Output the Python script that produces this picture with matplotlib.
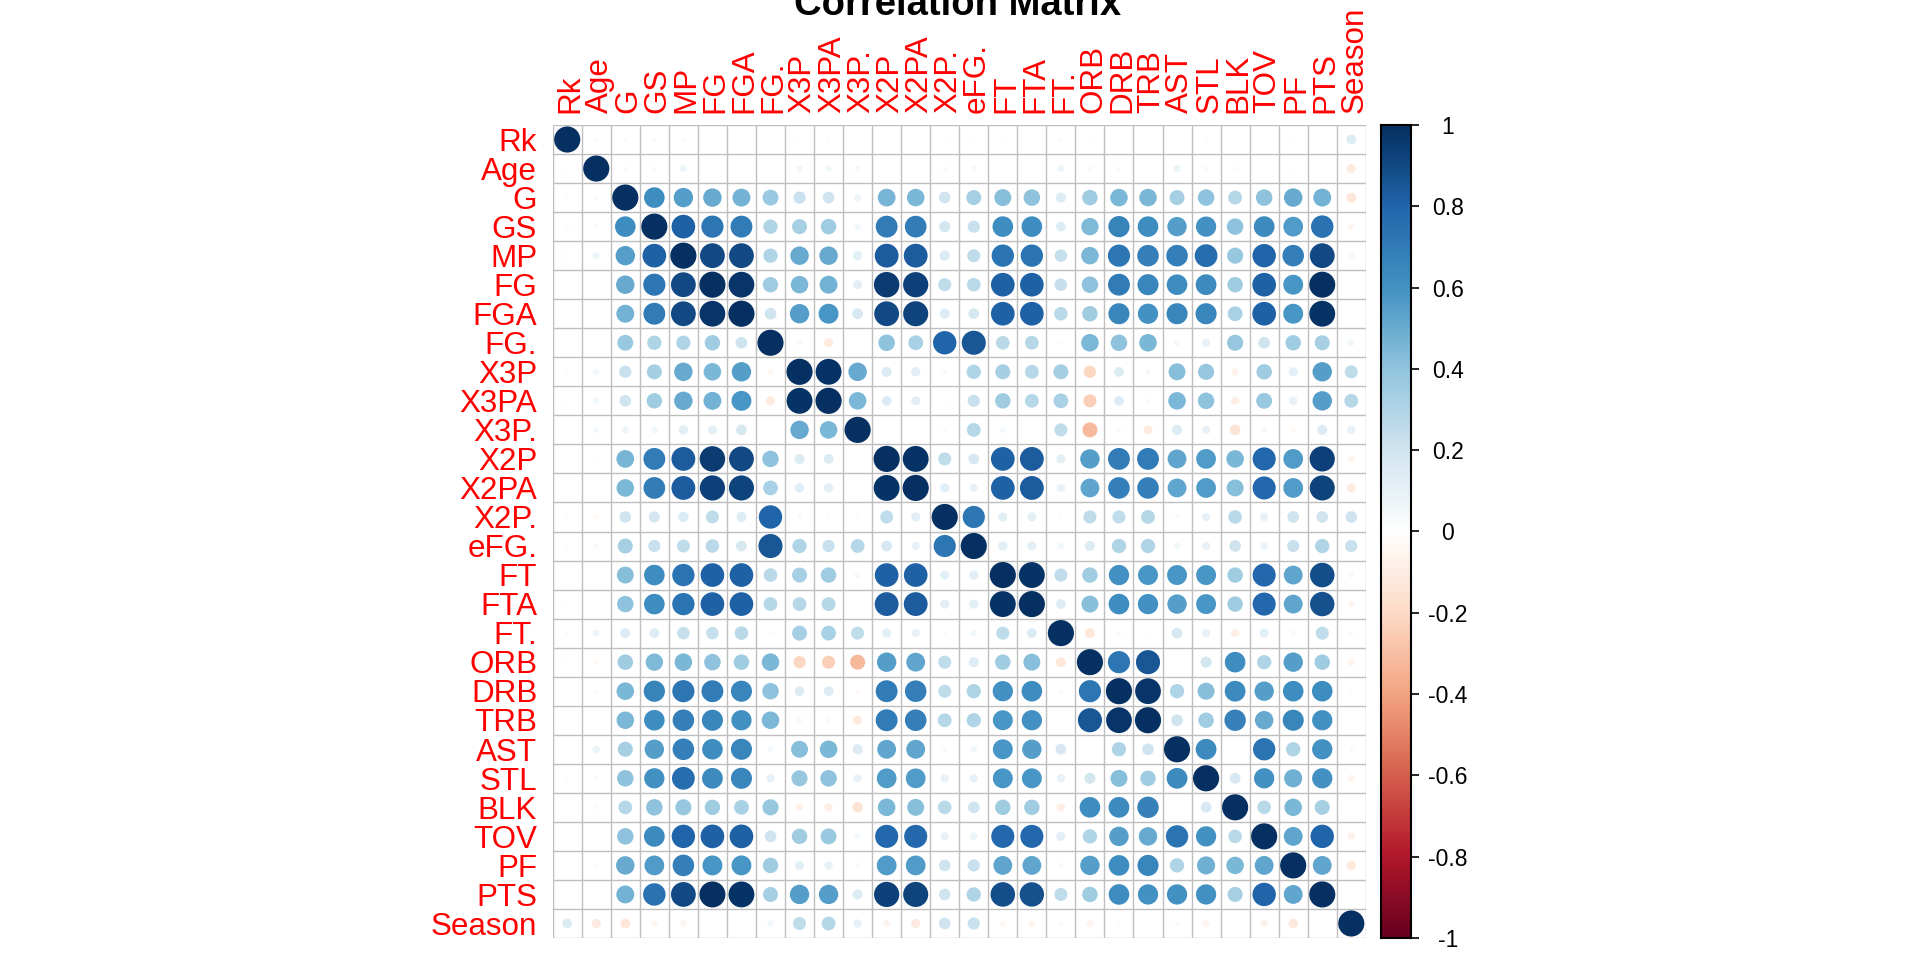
import numpy as np
import matplotlib
matplotlib.use("Agg")
import matplotlib.pyplot as plt
from matplotlib.colors import LinearSegmentedColormap
from matplotlib.patches import Circle

plt.rcParams['font.family'] = ['Liberation Sans', 'DejaVu Sans']

labels = ["Rk", "Age", "G", "GS", "MP", "FG", "FGA", "FG.", "X3P", "X3PA", "X3P.",
          "X2P", "X2PA", "X2P.", "eFG.", "FT", "FTA", "FT.", "ORB", "DRB", "TRB",
          "AST", "STL", "BLK", "TOV", "PF", "PTS", "Season"]

# upper triangle, row i holds corr(i, j) for j > i
corr_upper = [
    [-0.03, -0.03, -0.03, -0.03, 0.01, 0.01, 0.0, 0.02, 0.02, 0.0, 0.01, 0.01, 0.02, 0.02,
     -0.02, -0.02, -0.03, -0.02, 0.0, 0.01, 0.0, 0.02, 0.01, 0.0, -0.02, 0.0, 0.14],
    [0.03, 0.03, 0.07, 0.0, 0.01, 0.01, 0.06, 0.06, 0.05, -0.02, 0.01, -0.04, 0.04, 0.01,
     -0.01, 0.07, -0.04, 0.03, 0.01, 0.08, 0.03, -0.03, 0.01, 0.02, 0.01, -0.12],
    [0.62, 0.55, 0.5, 0.47, 0.37, 0.22, 0.2, 0.07, 0.46, 0.45, 0.2, 0.33, 0.42, 0.4, 0.15,
     0.35, 0.45, 0.45, 0.33, 0.4, 0.28, 0.4, 0.5, 0.47, -0.14],
    [0.82, 0.72, 0.7, 0.3, 0.33, 0.35, 0.06, 0.7, 0.69, 0.18, 0.22, 0.62, 0.62, 0.14, 0.44,
     0.66, 0.62, 0.55, 0.6, 0.4, 0.63, 0.57, 0.74, -0.06],
    [0.9, 0.9, 0.3, 0.5, 0.5, 0.13, 0.83, 0.83, 0.16, 0.25, 0.73, 0.73, 0.23, 0.45, 0.72,
     0.68, 0.68, 0.76, 0.38, 0.8, 0.68, 0.9, -0.06],
    [0.97, 0.35, 0.45, 0.47, 0.12, 0.95, 0.93, 0.25, 0.27, 0.82, 0.82, 0.23, 0.4, 0.7,
     0.65, 0.62, 0.63, 0.35, 0.82, 0.58, 0.99, 0.0],
    [0.2, 0.55, 0.58, 0.17, 0.9, 0.92, 0.15, 0.17, 0.82, 0.82, 0.27, 0.35, 0.65, 0.6,
     0.65, 0.65, 0.32, 0.82, 0.58, 0.98, -0.01],
    [-0.05, -0.12, 0.01, 0.4, 0.32, 0.8, 0.85, 0.27, 0.28, -0.03, 0.45, 0.4, 0.45, 0.05,
     0.1, 0.38, 0.2, 0.35, 0.33, 0.06],
    [0.98, 0.5, 0.15, 0.13, 0.03, 0.3, 0.33, 0.28, 0.33, -0.22, 0.14, 0.04, 0.42, 0.38,
     -0.08, 0.35, 0.12, 0.55, 0.25],
    [0.45, 0.14, 0.12, 0.02, 0.22, 0.35, 0.28, 0.32, -0.25, 0.14, 0.03, 0.45, 0.4, -0.1,
     0.37, 0.1, 0.55, 0.28],
    [0.01, 0.0, -0.03, 0.28, 0.05, 0.0, 0.25, -0.33, -0.04, -0.12, 0.15, 0.1, -0.16, 0.05,
     -0.04, 0.15, 0.1],
    [0.98, 0.25, 0.17, 0.82, 0.83, 0.12, 0.55, 0.7, 0.7, 0.52, 0.57, 0.45, 0.78, 0.57,
     0.93, -0.07],
    [0.12, 0.1, 0.82, 0.83, 0.1, 0.52, 0.68, 0.68, 0.52, 0.57, 0.42, 0.78, 0.57, 0.92, -0.12],
    [0.72, 0.12, 0.12, -0.03, 0.25, 0.25, 0.28, 0.03, 0.1, 0.27, 0.1, 0.2, 0.2, 0.2],
    [0.13, 0.12, 0.06, 0.15, 0.3, 0.3, 0.06, 0.1, 0.2, 0.08, 0.22, 0.3, 0.22],
    [0.98, 0.25, 0.35, 0.6, 0.58, 0.58, 0.58, 0.35, 0.78, 0.52, 0.88, -0.05],
    [0.14, 0.42, 0.62, 0.6, 0.55, 0.58, 0.35, 0.78, 0.52, 0.87, -0.06],
    [-0.14, 0.03, -0.02, 0.17, 0.1, -0.1, 0.12, 0.04, 0.25, 0.03],
    [0.72, 0.85, 0.0, 0.18, 0.62, 0.3, 0.55, 0.35, -0.07],
    [0.97, 0.3, 0.42, 0.63, 0.55, 0.62, 0.62, 0.02],
    [0.2, 0.35, 0.67, 0.5, 0.65, 0.6, 0.0],
    [0.63, 0.0, 0.73, 0.3, 0.6, 0.03],
    [0.17, 0.6, 0.48, 0.6, -0.07],
    [0.27, 0.45, 0.33, 0.0],
    [0.52, 0.8, -0.08],
    [0.52, -0.13],
    [0.0],
]

cbar_ticks = [-1, -0.8, -0.6, -0.4, -0.2, 0, 0.2, 0.4, 0.6, 0.8, 1]

n = len(labels)
corr = np.eye(n)
for i, row in enumerate(corr_upper):
    for k, v in enumerate(row):
        j = i + 1 + k
        corr[i, j] = v
        corr[j, i] = v

rdbu = LinearSegmentedColormap.from_list(
    "corrplot_rdbu",
    ["#67001F", "#B2182B", "#D6604D", "#F4A582", "#FDDBC7", "#FFFFFF",
     "#D1E5F0", "#92C5DE", "#4393C3", "#2166AC", "#053061"], N=200)

W, H = 1920, 960
fig = plt.figure(figsize=(19.2, 9.6), dpi=100)

# matrix panel in pixel coords
gx0, gx1, gy0, gy1 = 552.7, 1365.8, 125.0, 938.0
ax = fig.add_axes([gx0 / W, 1 - gy1 / H, (gx1 - gx0) / W, (gy1 - gy0) / H])
ax.set_xlim(-0.5, n - 0.5)
ax.set_ylim(n - 0.5, -0.5)
ax.axis('off')

for i in range(n):
    for j in range(n):
        r = corr[i, j]
        c = Circle((j, i), 0.45 * np.sqrt(abs(r)), facecolor=rdbu((r + 1) / 2),
                   edgecolor='none', zorder=2)
        ax.add_patch(c)

for k in range(n + 1):
    ax.plot([k - 0.5, k - 0.5], [-0.5, n - 0.5], color='#BEBEBE', lw=1.0, zorder=1)
    ax.plot([-0.5, n - 0.5], [k - 0.5, k - 0.5], color='#BEBEBE', lw=1.0, zorder=1)

cell = (gx1 - gx0) / n
lab_size = 22.6
cap = 0.716 * lab_size * 100 / 72 / cell / 2  # half cap height in cells
for k, lab in enumerate(labels):
    ax.text(-0.5 - 15.5 / cell, k + cap, lab, color='red', fontsize=lab_size,
            ha='right', va='baseline', clip_on=False)
    ax.text(k + cap, -0.5 - 12 / cell, lab, color='red', fontsize=lab_size,
            rotation=90, rotation_mode='anchor', ha='left', va='baseline',
            clip_on=False)

fig.text(958 / W, 1 - 15 / H, "Correlation Matrix", fontsize=27.5, fontweight='bold',
         ha='center', va='baseline')

# colour legend
cx0, cx1 = 1380.7, 1410.7
cax = fig.add_axes([cx0 / W, 1 - gy1 / H, (cx1 - cx0) / W, (gy1 - gy0) / H])
grad = np.linspace(-1, 1, 200).reshape(-1, 1)
cax.imshow(grad, cmap=rdbu, vmin=-1, vmax=1, aspect='auto', origin='lower',
           extent=[0, 1, -1, 1], interpolation='nearest')
cax.set_xlim(0, 1)
cax.set_ylim(-1, 1)
cax.set_xticks([])
cax.yaxis.tick_right()
cax.set_yticks(cbar_ticks)
cax.set_yticklabels([])
cax.tick_params(axis='y', length=6, width=1.2, color='black')
for s in cax.spines.values():
    s.set_linewidth(1.5)
for t in cbar_ticks:
    fig.text(1448 / W, 1 - (gy1 - (t + 1) / 2 * (gy1 - gy0)) / H, f"{t:g}",
             fontsize=16.5, ha='center', va='center_baseline')

fig.savefig("out.png", dpi=100)
